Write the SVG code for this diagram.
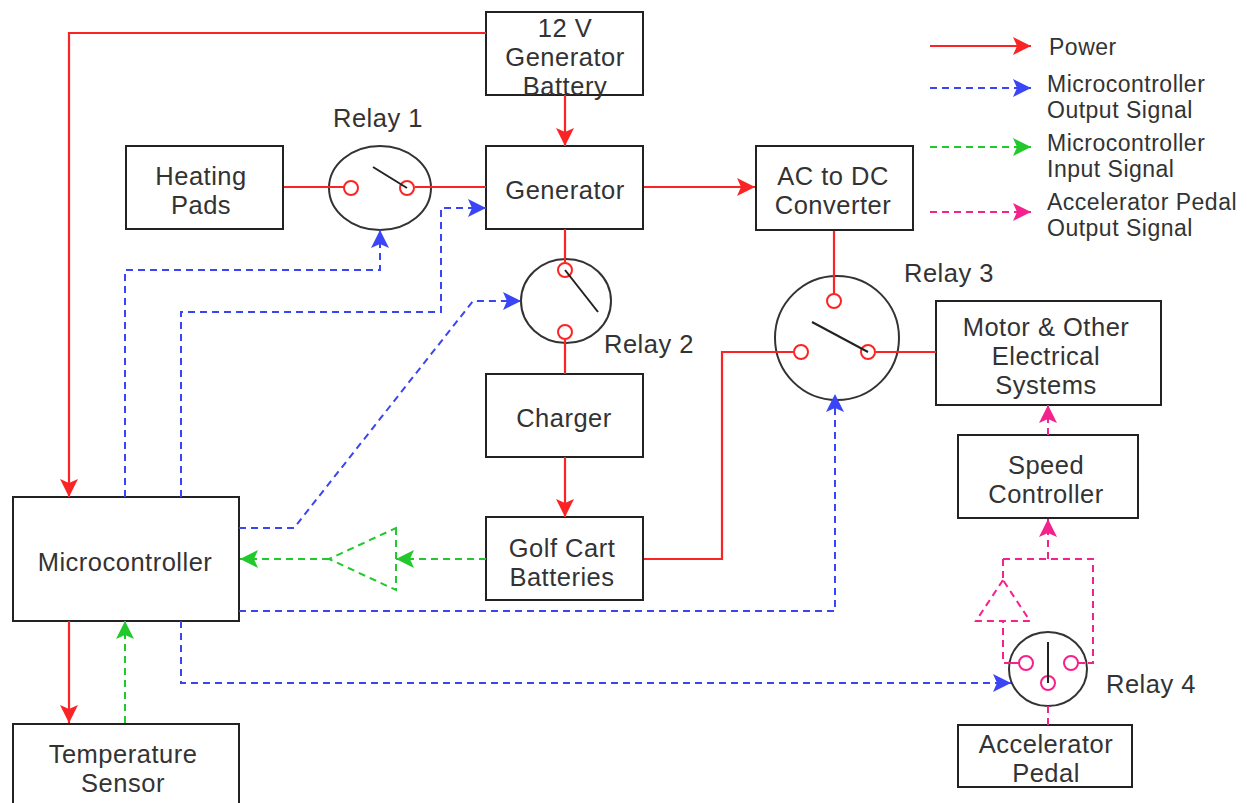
<svg xmlns="http://www.w3.org/2000/svg" width="1247" height="803" viewBox="0 0 1247 803">
<defs>
<marker id="ar" markerUnits="userSpaceOnUse" markerWidth="20" markerHeight="20" refX="18" refY="9" orient="auto"><path d="M0 0L18 9L0 18L4 9Z" style="fill:#fb2424"/></marker>
<marker id="ab" markerUnits="userSpaceOnUse" markerWidth="20" markerHeight="20" refX="18" refY="9" orient="auto"><path d="M0 0L18 9L0 18L4 9Z" style="fill:#3a45f5"/></marker>
<marker id="ag" markerUnits="userSpaceOnUse" markerWidth="20" markerHeight="20" refX="18" refY="9" orient="auto"><path d="M0 0L18 9L0 18L4 9Z" style="fill:#22c92c"/></marker>
<marker id="ap" markerUnits="userSpaceOnUse" markerWidth="20" markerHeight="20" refX="18" refY="9" orient="auto"><path d="M0 0L18 9L0 18L4 9Z" style="fill:#f5218c"/></marker>
</defs>
<style>
text{font-family:"Liberation Sans",Arial,sans-serif;font-size:25.5px;letter-spacing:.5px;fill:#333;text-anchor:middle}
.l{text-anchor:start;font-size:23px}
.box{fill:#fff;stroke:#222;stroke-width:2}
.rel{fill:#fff;stroke:#333;stroke-width:2}
.arm{fill:none;stroke:#222;stroke-width:2}
.r,.b,.g,.p{fill:none}
.r{stroke:#fb2424;stroke-width:2.2}
.b{stroke:#3a45f5;stroke-width:2;stroke-dasharray:7 5}
.g{stroke:#22c92c;stroke-width:2;stroke-dasharray:7 5}
.p{stroke:#f5218c;stroke-width:2;stroke-dasharray:7 5}
.tr{fill:none;stroke:#fb2424;stroke-width:2}
.tp{fill:none;stroke:#f5218c;stroke-width:2}
</style>
<g id="battery"><rect class="box" x="486" y="12" width="157" height="83"/><text x="565" y="37">12 V</text><text x="565" y="66">Generator</text><text x="565" y="95">Battery</text></g>
<g id="generator"><rect class="box" x="486" y="146" width="157" height="83"/><text x="565" y="199">Generator</text></g>
<g id="heating-pads"><rect class="box" x="126" y="146" width="157" height="83"/><text x="201" y="185">Heating</text><text x="201" y="214">Pads</text></g>
<g id="converter"><rect class="box" x="756" y="146" width="157" height="84"/><text x="833" y="185">AC to DC</text><text x="833" y="214">Converter</text></g>
<g id="charger"><rect class="box" x="486" y="374" width="157" height="83"/><text x="564" y="427">Charger</text></g>
<g id="batteries"><rect class="box" x="486" y="517" width="157" height="83"/><text x="562" y="557">Golf Cart</text><text x="562" y="586">Batteries</text></g>
<g id="motor"><rect class="box" x="936" y="301" width="225" height="104"/><text x="1046" y="336">Motor &amp; Other</text><text x="1046" y="365">Electrical</text><text x="1046" y="394">Systems</text></g>
<g id="speed-controller"><rect class="box" x="958" y="435" width="180" height="83"/><text x="1046" y="474">Speed</text><text x="1046" y="503">Controller</text></g>
<g id="accelerator"><rect class="box" x="958" y="725" width="174" height="62"/><text x="1046" y="753">Accelerator</text><text x="1046" y="782">Pedal</text></g>
<g id="microcontroller"><rect class="box" x="13" y="497" width="226" height="124"/><text x="125" y="571">Microcontroller</text></g>
<g id="temp-sensor"><path class="box" d="M13 803V724H239V803"/><text x="123" y="763">Temperature</text><text x="123" y="792">Sensor</text></g>
<g id="relay1"><ellipse class="rel" cx="380" cy="188" rx="51" ry="42"/><path class="r" d="M329 187H344M415 187H431"/><circle class="tr" cx="351" cy="188" r="7"/><circle class="tr" cx="407" cy="188" r="7"/><path class="arm" d="M373 167L407 188"/><text x="378" y="127">Relay 1</text></g>
<g id="relay2"><ellipse class="rel" cx="566" cy="301" rx="45" ry="42"/><path class="r" d="M565 259V263M565 340V343"/><circle class="tr" cx="565" cy="270" r="7"/><circle class="tr" cx="565" cy="332" r="7"/><path class="arm" d="M565 270L598 312"/><text x="649" y="353">Relay 2</text></g>
<g id="relay3"><circle class="rel" cx="837" cy="338" r="62"/><path class="r" d="M834 276V294M775 352H793M876 352H899"/><circle class="tr" cx="834" cy="301" r="7"/><circle class="tr" cx="801" cy="352" r="7"/><circle class="tr" cx="868" cy="352" r="7"/><path class="arm" d="M812 322L868 352"/><text x="949" y="282">Relay 3</text></g>
<g id="relay4"><ellipse class="rel" cx="1048" cy="669" rx="39" ry="37"/><path class="p" style="stroke-dasharray:none" d="M1011 663H1019M1078 663H1085"/><circle class="tp" cx="1026" cy="663" r="7"/><circle class="tp" cx="1071" cy="663" r="7"/><circle class="tp" cx="1048" cy="683" r="7"/><path class="arm" d="M1048 642V683"/><text x="1151" y="693">Relay 4</text></g>
<g id="connectors">
<path class="r" d="M486 33H69V497" marker-end="url(#ar)"/>
<path class="r" d="M565 95V146" marker-end="url(#ar)"/>
<path class="r" d="M644 187H755" marker-end="url(#ar)"/>
<path class="r" d="M284 187H329"/>
<path class="r" d="M431 187H486"/>
<path class="r" d="M565 229V259"/>
<path class="r" d="M565 343V374"/>
<path class="r" d="M565 457V517" marker-end="url(#ar)"/>
<path class="r" d="M644 559H722V352H775"/>
<path class="r" d="M834 231V276"/>
<path class="r" d="M899 352H936"/>
<path class="r" d="M69 621V723" marker-end="url(#ar)"/>
<path class="b" d="M125 497V270H380V230" marker-end="url(#ab)"/>
<path class="b" d="M181 497V312H441V208H486" marker-end="url(#ab)"/>
<path class="b" d="M239 528H294L473 301H521" marker-end="url(#ab)"/>
<path class="b" d="M239 611H835V394" marker-end="url(#ab)"/>
<path class="b" d="M181 621V683H1011" marker-end="url(#ab)"/>
<path class="g" d="M486 559H396" marker-end="url(#ag)"/>
<path class="g" d="M329 559H240" marker-end="url(#ag)"/>
<path class="g" d="M396 528V590L329 559Z"/>
<path class="g" d="M125 723V621" marker-end="url(#ag)"/>
<path class="p" d="M1048 725V706"/>
<path class="p" d="M1011 663H1003V621"/>
<path class="p" d="M1003 559V580"/>
<path class="p" d="M1003 580L976 621H1030Z"/>
<path class="p" d="M1003 559H1093V663H1085"/>
<path class="p" d="M1048 559V519" marker-end="url(#ap)"/>
<path class="p" d="M1048 435V405" marker-end="url(#ap)"/>
</g>
<g id="legend">
<path class="r" d="M930 46H1031" marker-end="url(#ar)"/>
<path class="b" d="M930 88H1031" marker-end="url(#ab)"/>
<path class="g" d="M930 147H1031" marker-end="url(#ag)"/>
<path class="p" d="M930 212H1031" marker-end="url(#ap)"/>
<text class="l" x="1049" y="55">Power</text>
<text class="l" x="1047" y="92">Microcontroller</text><text class="l" x="1047" y="118">Output Signal</text>
<text class="l" x="1047" y="151">Microcontroller</text><text class="l" x="1047" y="177">Input Signal</text>
<text class="l" x="1047" y="210">Accelerator Pedal</text><text class="l" x="1047" y="236">Output Signal</text>
</g>
</svg>
